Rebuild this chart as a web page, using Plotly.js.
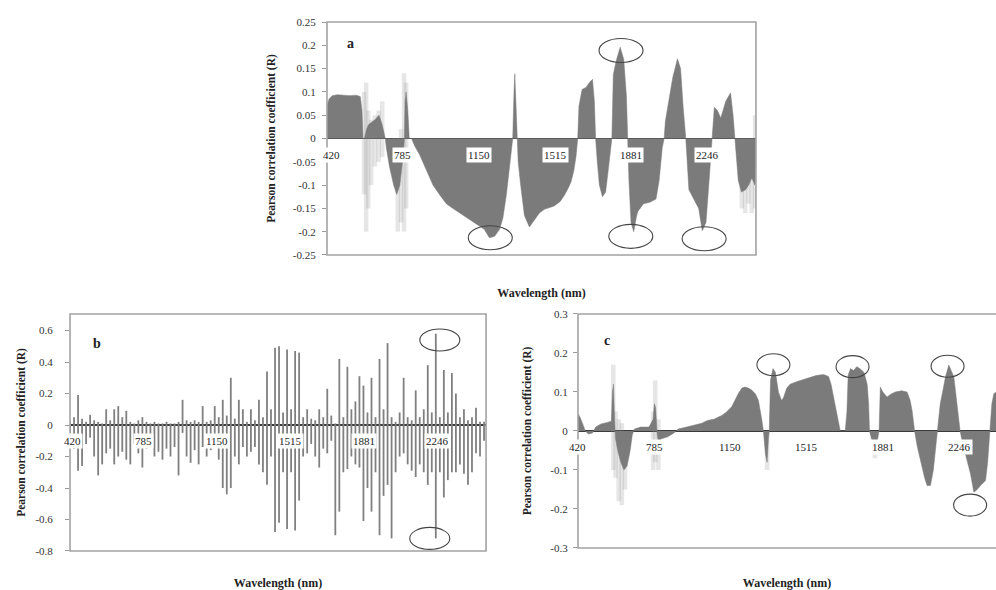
<!DOCTYPE html>
<html>
<head>
<meta charset="utf-8">
<script src="https://cdn.plot.ly/plotly-3.0.1.min.js"></script>
<style>html,body{margin:0;padding:0;overflow:hidden;background:#fff}#chart{width:996px;height:590px}</style>
</head>
<body>
<div id="chart"></div>
<script>
// ---------- Panel a ----------
const aX = [420,430,445,470,500,530,560,580,588,593,600,610,620,650,670,685,700,705,720,740,755,770,785,792,795,800,808,815,826,840,865,900,929,960,993,1025,1057,1090,1121,1150,1175,1200,1225,1249,1265,1281,1295,1305,1312,1318,1322,1327,1332,1338,1350,1368,1392,1410,1440,1464,1490,1511,1540,1560,1580,1592,1605,1616,1624,1630,1645,1665,1680,1695,1704,1710,1718,1728,1743,1758,1770,1782,1788,1795,1808,1828,1845,1858,1864,1870,1880,1893,1905,1912,1940,1970,2000,2015,2030,2039,2045,2065,2080,2103,2118,2130,2143,2158,2180,2205,2222,2240,2255,2270,2280,2295,2311,2335,2358,2370,2380,2395,2410,2430,2445,2460,2475,2480];
const aY = [0.07,0.085,0.092,0.094,0.093,0.092,0.093,0.09,0.06,0,0,0.02,0.03,0.04,0.05,0.03,0,-0.02,-0.06,-0.1,-0.12,-0.1,-0.04,0,0.08,0.1,0.06,0,0,-0.015,-0.035,-0.07,-0.1,-0.12,-0.14,-0.15,-0.16,-0.17,-0.18,-0.188,-0.195,-0.213,-0.21,-0.195,-0.17,-0.122,-0.07,-0.02,0,0.1,0.139,0.08,0,-0.05,-0.1,-0.165,-0.19,-0.178,-0.16,-0.152,-0.148,-0.145,-0.135,-0.122,-0.105,-0.093,-0.07,-0.038,0,0.07,0.105,0.11,0.12,0.127,0.08,0,-0.05,-0.1,-0.125,-0.115,-0.07,-0.02,0,0.137,0.165,0.196,0.17,0.09,0,-0.09,-0.18,-0.2,-0.17,-0.157,-0.14,-0.137,-0.13,-0.09,-0.02,0,0.037,0.09,0.13,0.171,0.15,0.07,0,-0.11,-0.13,-0.15,-0.198,-0.18,-0.09,0,0.067,0.06,0.044,0.08,0.098,0.05,0,-0.09,-0.115,-0.11,-0.1,-0.085,-0.1,-0.05];
const aFaintX  = [598,608,618,632,650,668,685,760,776,790,800,2412,2428,2444,2460,2476];
const aFaintHi = [0.1,0.12,0.06,0.04,0.05,0.06,0.08,0,0.02,0.14,0.12,0,0,0,0,0.05];
const aFaintLo = [-0.12,-0.2,-0.15,-0.1,-0.06,-0.05,-0.04,-0.2,-0.18,-0.2,-0.15,-0.15,-0.16,-0.14,-0.16,-0.15];
const aMarkX = [1204,1832,1879,2231];
const aMarkY = [-0.213,0.189,-0.21,-0.215];
const aYTicks = [0.25,0.2,0.15,0.1,0.05,0,-0.05,-0.1,-0.15,-0.2,-0.25];
const aYText = ['0.25','0.2','0.15','0.1','0.05','0','-0.05','-0.1','-0.15','-0.2','-0.25'];

// ---------- Panel b ----------
const bX = [420,440,460,480,500,520,540,560,580,600,620,640,660,680,700,720,740,760,780,800,820,840,860,880,900,920,940,960,980,1000,1020,1040,1060,1080,1100,1120,1140,1160,1180,1200,1220,1240,1260,1280,1300,1320,1340,1360,1380,1400,1420,1440,1460,1480,1500,1520,1540,1560,1580,1600,1620,1640,1660,1680,1700,1720,1740,1760,1780,1800,1820,1840,1860,1880,1900,1920,1940,1960,1980,2000,2020,2040,2060,2080,2100,2120,2140,2160,2180,2200,2220,2240,2260,2280,2300,2320,2340,2360,2380,2400,2420,2440,2460,2480];
const bPos = [0.02,0.05,0.19,0.04,0.02,0.065,0.03,0.02,0.01,0.1,0.03,0.1,0.12,0.05,0.09,0.02,0.01,0.03,0.05,0.02,0.01,0.02,0.01,0.01,0.02,0.01,0.01,0.02,0.16,0.03,0.02,0.03,0.02,0.12,0.02,0.03,0.12,0.05,0.16,0.06,0.3,0.04,0.16,0.1,0.02,0.1,0.03,0.16,0.05,0.34,0.1,0.49,0.5,0.08,0.48,0.1,0.47,0.46,0.05,0.1,0.04,0.03,0.1,0.05,0.23,0.06,0.01,0.42,0.05,0.37,0.1,0.15,0.31,0.25,0.08,0.3,0.05,0.42,0.1,0.52,0.05,0.02,0.08,0.3,0.05,0.03,0.22,0.05,0.1,0.38,0.08,0.58,0.05,0.35,0.08,0.33,0.2,0.05,0.1,0.03,0.05,0.11,0.02,0.02];
const bNeg = [-0.05,-0.15,-0.29,-0.26,-0.12,-0.08,-0.2,-0.32,-0.25,-0.18,-0.15,-0.25,-0.2,-0.17,-0.22,-0.25,-0.12,-0.18,-0.27,-0.15,-0.14,-0.2,-0.17,-0.22,-0.15,-0.2,-0.14,-0.32,-0.05,-0.2,-0.24,-0.16,-0.25,-0.14,-0.2,-0.16,-0.1,-0.22,-0.4,-0.44,-0.4,-0.2,-0.25,-0.14,-0.2,-0.17,-0.14,-0.25,-0.3,-0.38,-0.2,-0.68,-0.62,-0.3,-0.66,-0.3,-0.67,-0.48,-0.2,-0.18,-0.12,-0.2,-0.27,-0.15,-0.18,-0.1,-0.7,-0.55,-0.3,-0.28,-0.2,-0.25,-0.27,-0.61,-0.4,-0.55,-0.3,-0.7,-0.45,-0.38,-0.72,-0.3,-0.2,-0.18,-0.25,-0.29,-0.33,-0.25,-0.3,-0.38,-0.3,-0.72,-0.3,-0.46,-0.35,-0.3,-0.3,-0.25,-0.31,-0.38,-0.3,-0.18,-0.2,-0.1];
const bMarkX = [2260,2210];
const bMarkY = [0.54,-0.72];
const bYTicks = [0.6,0.4,0.2,0,-0.2,-0.4,-0.6,-0.8];
const bYText = ['0.6','0.4','0.2','0','-0.2','-0.4','-0.6','-0.8'];

// ---------- Panel c ----------
const cX = [420,430,445,455,470,490,505,530,560,580,585,590,595,600,610,625,640,655,670,680,690,720,760,780,786,792,798,805,820,850,880,900,940,980,1013,1040,1070,1109,1130,1156,1175,1188,1205,1220,1236,1252,1270,1284,1300,1308,1318,1326,1332,1336,1342,1354,1366,1380,1395,1404,1420,1436,1470,1500,1530,1560,1596,1620,1632,1644,1656,1668,1676,1700,1708,1714,1725,1740,1755,1770,1790,1805,1812,1816,1825,1840,1852,1862,1868,1880,1900,1920,1940,1970,1996,2010,2020,2032,2045,2060,2080,2092,2108,2122,2132,2140,2155,2170,2180,2196,2210,2220,2235,2250,2262,2276,2290,2300,2316,2332,2348,2372,2382,2388,2395,2402,2412,2425];
const cY = [0.045,0.035,0.015,0,-0.008,-0.005,0.01,0.018,0.022,0.025,0.1,0.12,0.03,-0.02,-0.05,-0.08,-0.1,-0.09,-0.05,-0.01,0.005,0.01,0.01,0.03,0.07,0.06,0,-0.03,-0.02,-0.015,-0.005,0.005,0.01,0.015,0.02,0.027,0.03,0.04,0.048,0.062,0.085,0.096,0.11,0.113,0.11,0.105,0.095,0.079,0.03,0,-0.06,-0.08,-0.02,0,0.13,0.16,0.15,0.1,0.078,0.085,0.11,0.12,0.127,0.132,0.138,0.142,0.145,0.14,0.12,0.087,0.05,0.019,0,0,0.05,0.143,0.16,0.155,0.165,0.16,0.15,0.12,0.07,0,-0.02,-0.05,-0.03,0,0.113,0.1,0.087,0.095,0.1,0.103,0.1,0.08,0.053,0,-0.04,-0.075,-0.12,-0.14,-0.14,-0.1,-0.05,0,0.07,0.11,0.139,0.169,0.15,0.139,0.07,0,-0.03,-0.058,-0.09,-0.11,-0.157,-0.15,-0.14,-0.127,-0.08,-0.03,0,0.07,0.096,0.1];
const cFaintX  = [589,600,615,630,645,780,790,805,1326,1842];
const cFaintHi = [0.17,0.05,0.03,0.02,0,0.05,0.13,0.03,0,0];
const cFaintLo = [-0.1,-0.12,-0.18,-0.19,-0.15,-0.1,-0.08,-0.1,-0.1,-0.07];
const cMarkX = [1356,1735,2190,2298];
const cMarkY = [0.17,0.165,0.166,-0.19];
const cYTicks = [0.3,0.2,0.1,0,-0.1,-0.2,-0.3];
const cYText = ['0.3','0.2','0.1','0','-0.1','-0.2','-0.3'];

// ---------- shared ----------
const xTickWl = [420,785,1150,1515,1881,2246];
const panelNames = ['a','b','c'];
const yTitle = 'Pearson correlation coefficient (R)';
const xTitle = 'Wavelength (nm)';

const SERIF = '"Times New Roman", "Liberation Serif", serif';
const FILL = '#7b7b7b';
const FAINT = 'rgba(130,130,130,0.2)';

const traces = [];
function faintBars(xs, hi, lo, xa, ya){
  traces.push({type:'bar', x:xs, y:hi, width:22, marker:{color:FAINT,line:{width:0}}, xaxis:xa, yaxis:ya, hoverinfo:'skip', showlegend:false});
  traces.push({type:'bar', x:xs, y:lo, width:22, marker:{color:FAINT,line:{width:0}}, xaxis:xa, yaxis:ya, hoverinfo:'skip', showlegend:false});
}
faintBars(aFaintX, aFaintHi, aFaintLo, 'x', 'y');
traces.push({type:'scatter', mode:'lines', x:aX, y:aY, fill:'tozeroy', fillcolor:FILL, line:{width:0.5,color:FILL}, xaxis:'x', yaxis:'y', showlegend:false});
traces.push({type:'bar', x:bX, y:bPos, width:9, marker:{color:'#808080',line:{width:0}}, xaxis:'x2', yaxis:'y2', showlegend:false});
traces.push({type:'bar', x:bX, y:bNeg, width:9, marker:{color:'#808080',line:{width:0}}, xaxis:'x2', yaxis:'y2', showlegend:false});
faintBars(cFaintX, cFaintHi, cFaintLo, 'x3', 'y3');
traces.push({type:'scatter', mode:'lines', x:cX, y:cY, fill:'tozeroy', fillcolor:FILL, line:{width:0.5,color:FILL}, xaxis:'x3', yaxis:'y3', showlegend:false});

function xAxis(domain, range, anchor, standoff){
  return {domain:domain, range:range, anchor:anchor, showgrid:false, zeroline:false, showline:false,
    showticklabels:false, ticks:'', automargin:false,
    title:{text:'<b>'+xTitle+'</b>', font:{family:SERIF,size:12,color:'#222'}, standoff:standoff}};
}
function yAxis(domain, range, anchor, vals, text, standoff, labelGap){
  return {domain:domain, range:range, anchor:anchor, showgrid:false, zeroline:true, zerolinecolor:'#3a3a3a', zerolinewidth:1.6,
    showline:false, tickvals:vals, ticktext:text, ticks:'outside', ticklen:4, tickcolor:'#999', automargin:false,
    ticklabelstandoff:labelGap,
    tickfont:{family:SERIF,size:11,color:'#333'}, layer:'above traces',
    title:{text:'<b>'+yTitle+'</b>', font:{family:SERIF,size:11.5,color:'#222'}, standoff:standoff}};
}

const shapes = [];
const annotations = [];
[['x','y',1.0],['x2','y2',1.0],['x3','y3',1.06]].forEach(([xa,ya,x1])=>{
  shapes.push({type:'rect', xref:xa+' domain', yref:ya+' domain', x0:0, x1:x1, y0:0, y1:1, line:{color:'#a3a3a3',width:1.6}, layer:'above'});
});
function ellipses(xs, ys, xa, ya, w, h){
  xs.forEach((xv,i)=>{
    shapes.push({type:'circle', xref:xa, yref:ya, xsizemode:'pixel', ysizemode:'pixel', xanchor:xv, yanchor:ys[i],
      x0:-w/2, x1:w/2, y0:-h/2, y1:h/2, line:{color:'#444',width:1.1}, layer:'above'});
  });
}
ellipses(aMarkX, aMarkY, 'x', 'y', 44, 24);
ellipses(bMarkX, bMarkY, 'x2', 'y2', 40, 22);
ellipses(cMarkX, cMarkY, 'x3', 'y3', 33, 22);

[['x','y',5],['x2','y2',2],['x3','y3',0]].forEach(([xa,ya,firstShift])=>{
  xTickWl.forEach((w,i)=>{
    annotations.push({xref:xa, yref:ya, x:w, y:0, yshift:-16, xshift:(i===0?firstShift:0), text:String(w), showarrow:false,
      bgcolor:'#ffffff', borderpad:1, font:{family:SERIF,size:11,color:'#222'}});
  });
});
const labelPos = [[0.043,0.95,'x','y'],[0.05,0.915,'x2','y2'],[0.057,0.927,'x3','y3']];
labelPos.forEach((p,i)=>{
  annotations.push({xref:p[2]+' domain', yref:p[3]+' domain', x:p[0], y:p[1], text:'<b>'+panelNames[i]+'</b>', showarrow:false,
    font:{family:SERIF,size:14,color:'#222'}});
});

const layout = {
  width:996, height:590, margin:{l:0,r:0,t:0,b:0}, paper_bgcolor:'#fff', plot_bgcolor:'#fff',
  barmode:'overlay', showlegend:false,
  xaxis: xAxis([0.3283,0.759],[420,2480],'y',33),
  yaxis: yAxis([0.5678,0.9627],[-0.25,0.25],'x',aYTicks,aYText,14,4),
  xaxis2: xAxis([0.0703,0.488],[420,2490],'y2',33),
  yaxis2: yAxis([0.0661,0.4678],[-0.8,0.705],'x2',bYTicks,bYText,7,10),
  xaxis3: xAxis([0.5803,1.0],[420,2422],'y3',35),
  yaxis3: yAxis([0.0712,0.4678],[-0.3,0.3],'x3',cYTicks,cYText,16,3),
  shapes:shapes, annotations:annotations
};
Plotly.newPlot('chart', traces, layout, {displayModeBar:false, staticPlot:true});
</script>
</body>
</html>
